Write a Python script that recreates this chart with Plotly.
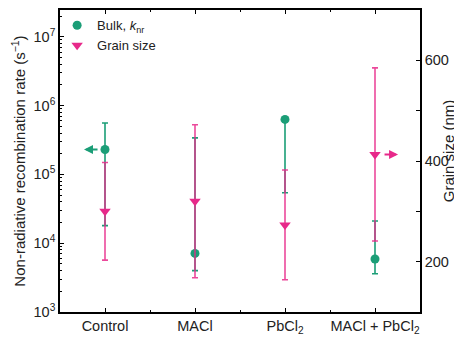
import numpy as np
import plotly.graph_objects as go

categories = ["Control", "MACl", "PbCl<sub>2</sub>", "MACl + PbCl<sub>2</sub>"]
bulk_knr = [2.3e5, 7.1e3, 6.3e5, 5.9e3]
bulk_upper = [5.6e5, 3.4e5, 6.3e5, 2.1e4]
bulk_lower = [1.8e4, 4.0e3, 5.4e4, 3.6e3]
grain_size = [300, 320, 273, 413]
grain_err = [97, 152, 109, 172]
left_tickvals = [1e3, 1e4, 1e5, 1e6, 1e7]
left_ticktext = ["10<sup>3</sup>", "10<sup>4</sup>", "10<sup>5</sup>", "10<sup>6</sup>", "10<sup>7</sup>"]
right_tickvals = [200, 300, 400, 500, 600]
right_ticktext = ["200", "", "400", "", "600"]

GREEN = "#1b9e77"
PINK = "#e7298a"
FONT = "Liberation Sans, Arial, sans-serif"

xpos = list(range(len(categories)))
err_plus = [u - v for u, v in zip(bulk_upper, bulk_knr)]
err_minus = [v - l for v, l in zip(bulk_knr, bulk_lower)]

fig = go.Figure()
fig.add_trace(go.Scatter(
    x=xpos, y=bulk_knr, mode="markers", name="Bulk, <i>k</i><sub>nr</sub>",
    marker=dict(symbol="circle", size=9, color=GREEN),
    error_y=dict(type="data", symmetric=False, array=err_plus, arrayminus=err_minus,
                 color=GREEN, thickness=1.6, width=3),
    yaxis="y",
))
fig.add_trace(go.Scatter(
    x=xpos, y=grain_size, mode="markers", name="Grain size",
    marker=dict(symbol="triangle-down", size=10, color=PINK),
    error_y=dict(type="data", array=grain_err, color="rgba(231,41,138,0.85)",
                 thickness=1.6, width=3),
    yaxis="y2",
))

fig.add_annotation(x=-0.233, y=np.log10(bulk_knr[0]), xref="x", yref="y",
                   ax=15, ay=0, showarrow=True, arrowhead=2, arrowsize=0.9,
                   arrowwidth=2, arrowcolor=GREEN, text="")
fig.add_annotation(x=3.256, y=grain_size[3], xref="x", yref="y2",
                   ax=-15, ay=0, showarrow=True, arrowhead=2, arrowsize=0.9,
                   arrowwidth=2, arrowcolor=PINK, text="")
fig.add_annotation(x=1.08, y=0.535, xref="paper", yref="paper", xanchor="center",
                   yanchor="middle", textangle=-90, showarrow=False,
                   text="Grain size (nm)", font=dict(size=15, color="#222"))

fig.update_layout(
    width=454, height=330,
    margin=dict(l=52, r=42, t=2, b=26, autoexpand=False),
    paper_bgcolor="white", plot_bgcolor="white",
    font=dict(family=FONT, size=14.5, color="#222"),
    showlegend=True,
    legend=dict(x=-0.008, y=0.999, xanchor="left", yanchor="top",
                bgcolor="rgba(0,0,0,0)", font=dict(size=13), itemwidth=30,
                tracegroupgap=0),
    xaxis=dict(range=[-0.5, 3.5], tickvals=xpos, ticktext=categories, automargin=False,
               ticks="inside", ticklen=4, tickwidth=1.2, tickcolor="black",
               showline=True, linecolor="black", linewidth=1.6, mirror="ticks",
               showgrid=False, zeroline=False,
               minor=dict(tickvals=[0.5, 1.5, 2.5], ticks="inside", ticklen=2,
                          tickcolor="black", showgrid=False)),
    yaxis=dict(type="log", range=[3, 7.39], tickvals=left_tickvals, ticktext=left_ticktext,
               automargin=False,
               ticks="inside", ticklen=4, tickwidth=1.2, tickcolor="black",
               showline=True, linecolor="black", linewidth=1.6,
               showgrid=False, zeroline=False,
               minor=dict(ticks="inside", ticklen=2, tickcolor="black", dtick="D1", showgrid=False),
               title=dict(text="Non-radiative recombination rate (s<sup>−1</sup>)",
                          font=dict(size=15), standoff=4)),
    yaxis2=dict(range=[100, 700], overlaying="y", side="right", automargin=False,
                tickvals=right_tickvals, ticktext=right_ticktext,
                ticks="inside", ticklen=4, tickwidth=1.2, tickcolor="black",
                showline=True, linecolor="black", linewidth=1.6,
                showgrid=False, zeroline=False),
)

fig.write_html("out.html")
